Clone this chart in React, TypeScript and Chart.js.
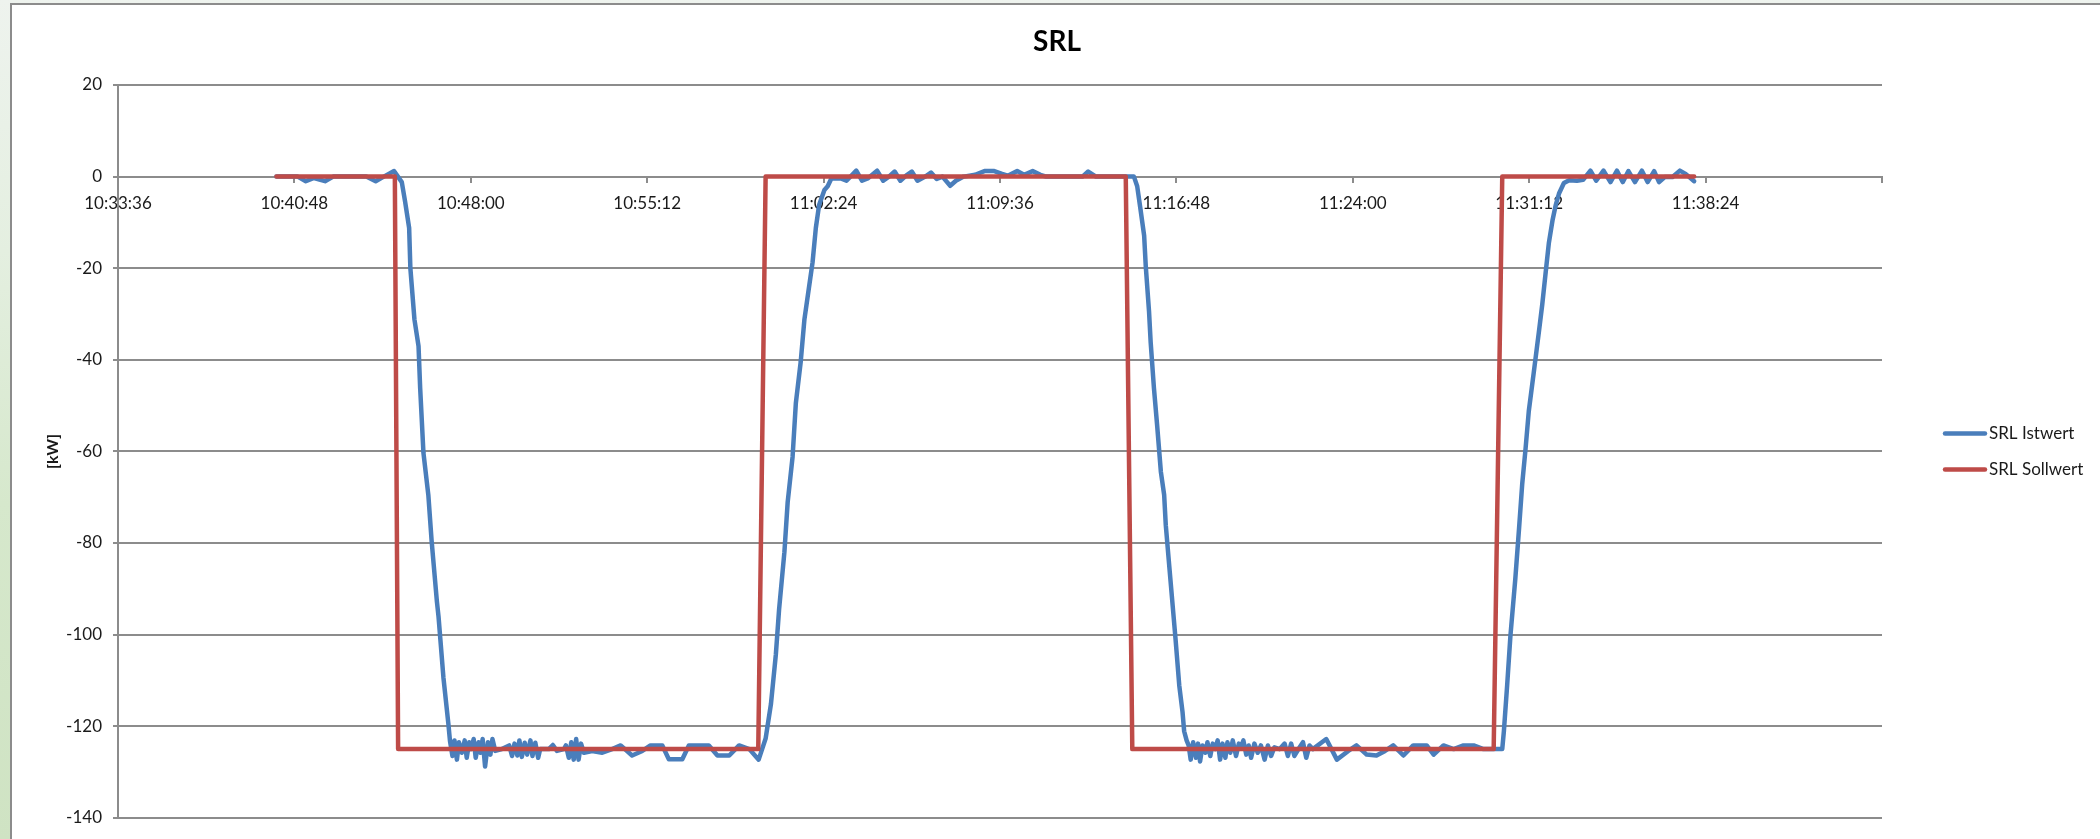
import { useEffect, useRef } from 'react';
import { Chart, registerables } from 'chart.js';

Chart.register(...registerables);

const TITLE = 'SRL';
const Y_TITLE = '[kW]';
const SERIES_NAMES = ['SRL Istwert', 'SRL Sollwert'];
const SERIES_COLORS = ['#4A7EBB', '#BE4B48'];
const TIME_TICK_LABELS = ['10:33:36', '10:40:48', '10:48:00', '10:55:12', '11:02:24', '11:09:36', '11:16:48', '11:24:00', '11:31:12', '11:38:24'];
const X_MIN = 38016; // 10:33:36 in seconds after midnight
const X_STEP = 432; // 7:12
const X_STEPS = 10;
const Y_MIN = -140;
const Y_MAX = 20;
const Y_STEP = 20;

// SRL Istwert: time (seconds after midnight) and value [kW]
const istSec = [
  38404, 38456, 38476, 38496, 38523, 38543, 38624, 38647, 38667, 38692,
  38711, 38719, 38729, 38732, 38742, 38752, 38756, 38764, 38776, 38784, 38797, 38801, 38813, 38825, 38829,
  38835, 38840, 38846, 38851, 38858, 38865, 38870, 38876, 38881, 38887, 38892, 38899, 38904, 38909, 38915, 38922, 38928, 38933, 38940, 38956,
  38974, 38981, 38987, 38994, 38999, 39005, 39012, 39018, 39026, 39031, 39038, 39045, 39050, 39071, 39081, 39091, 39108,
  39113, 39120, 39126, 39132, 39138, 39144, 39150, 39157, 39177, 39202, 39226, 39247, 39275, 39300, 39320, 39349, 39365, 39398, 39414, 39463, 39484, 39513, 39537, 39562, 39585,
  39602, 39615, 39627, 39635, 39648, 39656, 39668, 39676, 39688, 39697, 39709, 39717, 39725, 39733, 39746, 39754,
  39763, 39786, 39800, 39824, 39838, 39852, 39875, 39890, 39904, 39918, 39932, 39946, 39960, 39974, 39993, 40007, 40021, 40035, 40054, 40068, 40087, 40115, 40138, 40162, 40181, 40195, 40218, 40235, 40256, 40275, 40289, 40360, 40378, 40392, 40411, 40504,
  40512, 40520, 40529, 40533, 40541, 40545, 40553, 40561, 40570, 40578, 40582, 40590, 40598, 40606, 40615, 40623, 40627, 40633,
  40638, 40643, 40649, 40656, 40661, 40666, 40672, 40679, 40684, 40691, 40697, 40703, 40709, 40715, 40721, 40728, 40733, 40740, 40746, 40754, 40761, 40766, 40772, 40779, 40785, 40791, 40799, 40807, 40815, 40824, 40832, 40840, 40848, 40861, 40873, 40881, 40889, 40897, 40907, 40918, 40926, 40934, 40942,
  40975, 41001, 41029, 41049, 41074, 41098, 41119, 41139, 41164, 41188, 41221, 41238, 41262, 41287, 41311, 41336, 41360, 41406,
  41410, 41418, 41426, 41438, 41447, 41455, 41463, 41471, 41483, 41496, 41504, 41512, 41520, 41529, 41537, 41545, 41557, 41570,
  41589, 41604, 41622, 41636, 41654, 41671, 41687, 41701, 41715, 41731, 41748, 41762, 41778, 41790, 41804, 41823, 41841, 41855, 41876,
];
const istKW = [
  0, 0, -1, -0.3, -1, 0, 0, -1, 0, 1.2,
  -1.2, -5.4, -11.2, -20, -31.2, -37, -46.2, -60.3, -69.5, -79.5, -92.8, -96.1, -109.4, -119.4, -123.2,
  -126.5, -123.1, -127.3, -123.5, -125.8, -123.1, -126.9, -123.5, -125, -122.8, -126.9, -123.5, -125.8, -122.8, -128.8, -123.5, -126.2, -122.8, -125.4, -125,
  -124.2, -126.5, -123.8, -126.4, -123.1, -126.7, -123.6, -126.2, -123.1, -126.5, -123.6, -126.9, -125, -125, -124.1, -125.4, -125,
  -124.2, -126.9, -123.5, -127.3, -122.8, -127.3, -123.8, -125.8, -125.4, -125.8, -125, -124.2, -126.4, -125.4, -124.2, -124.2, -127.2, -127.2, -124.2, -124.2, -126.4, -126.4, -124.2, -125, -127.3,
  -122.7, -115.2, -104.4, -94.5, -82, -71.1, -61.2, -49.5, -40.4, -31.2, -23.7, -18.7, -11.2, -6.2, -2.9, -2.1,
  -0.4, -0.4, -0.9, 1.3, -0.9, -0.4, 1.3, -0.9, 0, 1.1, -0.9, 0.2, 1.1, -0.9, 0, 0.9, -0.5, 0, -2, -0.9, 0, 0.4, 1.2, 1.2, 0.6, 0.2, 1.2, 0.4, 1.2, 0.4, 0, 0, 0, 1.1, 0, 0,
  -2.1, -7.1, -12.9, -19.6, -29.5, -36.2, -46.2, -54.5, -64.5, -69.5, -76.1, -84.5, -92.8, -101.1, -111.1, -116.9, -121.1, -123.1,
  -124.2, -127.3, -123.5, -126.9, -123.8, -127.7, -124.2, -125.8, -123.5, -126.5, -123.8, -125, -123.1, -127.3, -123.8, -126.9, -123.5, -125.8, -123.1, -126.5, -123.8, -124.6, -123.1, -126.2, -124.2, -126.9, -123.8, -125.8, -124.2, -127.3, -124.2, -126.5, -124.6, -125, -123.8, -126.5, -123.8, -126.5, -125, -123.5, -126.9, -124.2, -125,
  -122.8, -127.3, -125.4, -124.2, -126.2, -126.4, -125.4, -124.2, -126.4, -124.2, -124.2, -126.2, -124.2, -125, -124.2, -124.2, -125, -125,
  -121.1, -111.1, -100.3, -87.8, -77, -67, -59.5, -51.2, -42.9, -33.7, -27.9, -21.2, -14.6, -9.6, -6.2, -3.7, -1.4, -0.8,
  -0.9, -0.7, 1.3, -0.9, 1.3, -1.2, 1.3, -1.2, 1.2, -1.2, 1.3, -1.2, 1.2, -1.2, -0.1, -0.1, 1.3, 0.6, -1,
];

// SRL Sollwert: time (seconds after midnight) and value [kW]
const sollSec = [38404, 38694, 38702, 39584, 39602, 40484, 40500, 41385, 41406, 41876];
const sollKW = [0, 0, -125, -125, 0, 0, -125, -125, 0, 0];

const GRID_COLOR = '#8c8c8c';
const TEXT_COLOR = '#1a1a1a';
const FONT = 'Lato, "Open Sans", sans-serif';

const sideLegend = {
  id: 'sideLegend',
  afterDraw(chart: any) {
    const { ctx, chartArea } = chart;
    const midY = (chartArea.top + chartArea.bottom) / 2;
    chart.data.datasets.forEach((ds: any, i: number) => {
      const y = midY - 18 + i * 36;
      const x0 = chartArea.right + 63;
      ctx.save();
      ctx.strokeStyle = ds.borderColor;
      ctx.lineWidth = 4.5;
      ctx.lineCap = 'round';
      ctx.beginPath();
      ctx.moveTo(x0, y);
      ctx.lineTo(x0 + 40, y);
      ctx.stroke();
      ctx.fillStyle = TEXT_COLOR;
      ctx.font = `17px ${FONT}`;
      ctx.textBaseline = 'middle';
      ctx.textAlign = 'left';
      ctx.fillText(ds.label, x0 + 44, y);
      ctx.restore();
    });
  },
};

export default function App() {
  const ref = useRef<HTMLCanvasElement | null>(null);

  useEffect(() => {
    const canvas = ref.current;
    if (!canvas) return;
    const chart = new Chart(canvas, {
      type: 'line',
      data: {
        datasets: [
          {
            label: SERIES_NAMES[0],
            data: istSec.map((t, i) => ({ x: t, y: istKW[i] })),
            borderColor: SERIES_COLORS[0],
            backgroundColor: SERIES_COLORS[0],
            borderWidth: 4.5,
            pointRadius: 0,
            tension: 0,
            borderJoinStyle: 'round',
            borderCapStyle: 'round',
            order: 2,
            yAxisID: 'y',
            xAxisID: 'x',
          },
          {
            label: SERIES_NAMES[1],
            data: sollSec.map((t, i) => ({ x: t, y: sollKW[i] })),
            borderColor: SERIES_COLORS[1],
            backgroundColor: SERIES_COLORS[1],
            borderWidth: 4.5,
            pointRadius: 0,
            tension: 0,
            borderJoinStyle: 'round',
            borderCapStyle: 'round',
            order: 1,
            yAxisID: 'y',
            xAxisID: 'x',
          },
        ],
      },
      options: {
        responsive: false,
        animation: false,
        devicePixelRatio: 1,
        layout: { padding: { left: 14, right: 0, top: 0, bottom: 20 } },
        plugins: {
          legend: { display: false },
          tooltip: { enabled: false },
          title: {
            display: true,
            text: TITLE,
            color: '#000',
            font: { family: FONT, size: 28, weight: 'bold', lineHeight: 1.2 },
            padding: { top: 25, bottom: 26.4 },
          },
        },
        scales: {
          x: {
            type: 'linear',
            position: { y: 0 },
            min: X_MIN,
            max: X_MIN + X_STEP * X_STEPS,
            grid: { drawOnChartArea: false, drawTicks: true, tickLength: 5, color: GRID_COLOR, lineWidth: 2 },
            border: { display: true, color: GRID_COLOR, width: 2 },
            ticks: {
              stepSize: X_STEP,
              autoSkip: false,
              maxRotation: 0,
              padding: 12,
              color: TEXT_COLOR,
              font: { family: FONT, size: 17 },
              callback: (_v: any, i: number) => TIME_TICK_LABELS[i] ?? '',
            },
          },
          y: {
            type: 'linear',
            position: 'left',
            min: Y_MIN,
            max: Y_MAX,
            grid: { color: GRID_COLOR, lineWidth: 2, tickLength: 5, drawTicks: true },
            border: { display: true, color: GRID_COLOR, width: 2 },
            ticks: { stepSize: Y_STEP, padding: 11, color: TEXT_COLOR, font: { family: FONT, size: 17 } },
            title: {
              display: true,
              text: Y_TITLE,
              color: TEXT_COLOR,
              font: { family: FONT, size: 16, weight: 'bold' },
              padding: { top: 29, bottom: 0 },
            },
            afterFit: (s: any) => {
              s.width = 104;
            },
          },
          yR: {
            type: 'linear',
            position: 'right',
            display: true,
            grid: { display: false, drawTicks: false },
            ticks: { display: false },
            border: { display: false },
            afterFit: (s: any) => {
              s.width = 218;
            },
          },
        },
      } as any,
      plugins: [sideLegend],
    } as any);
    return () => chart.destroy();
  }, []);

  return (
    <div
      style={{
        position: 'fixed',
        left: 0,
        top: 0,
        width: 2100,
        height: 839,
        overflow: 'hidden',
        background: 'linear-gradient(180deg, #eef3ee 0%, #e4efe0 30%, #d6e8cc 60%, #cfe3c3 100%)',
      }}
    >
      <div
        style={{
          position: 'absolute',
          left: 10,
          top: 3,
          width: 2200,
          height: 1000,
          background: '#ffffff',
          border: '2px solid #8c8c8c',
        }}
      />
      <canvas
        ref={ref}
        width={2100}
        height={839}
        style={{ position: 'absolute', left: 0, top: 0, width: 2100, height: 839 }}
      />
    </div>
  );
}
